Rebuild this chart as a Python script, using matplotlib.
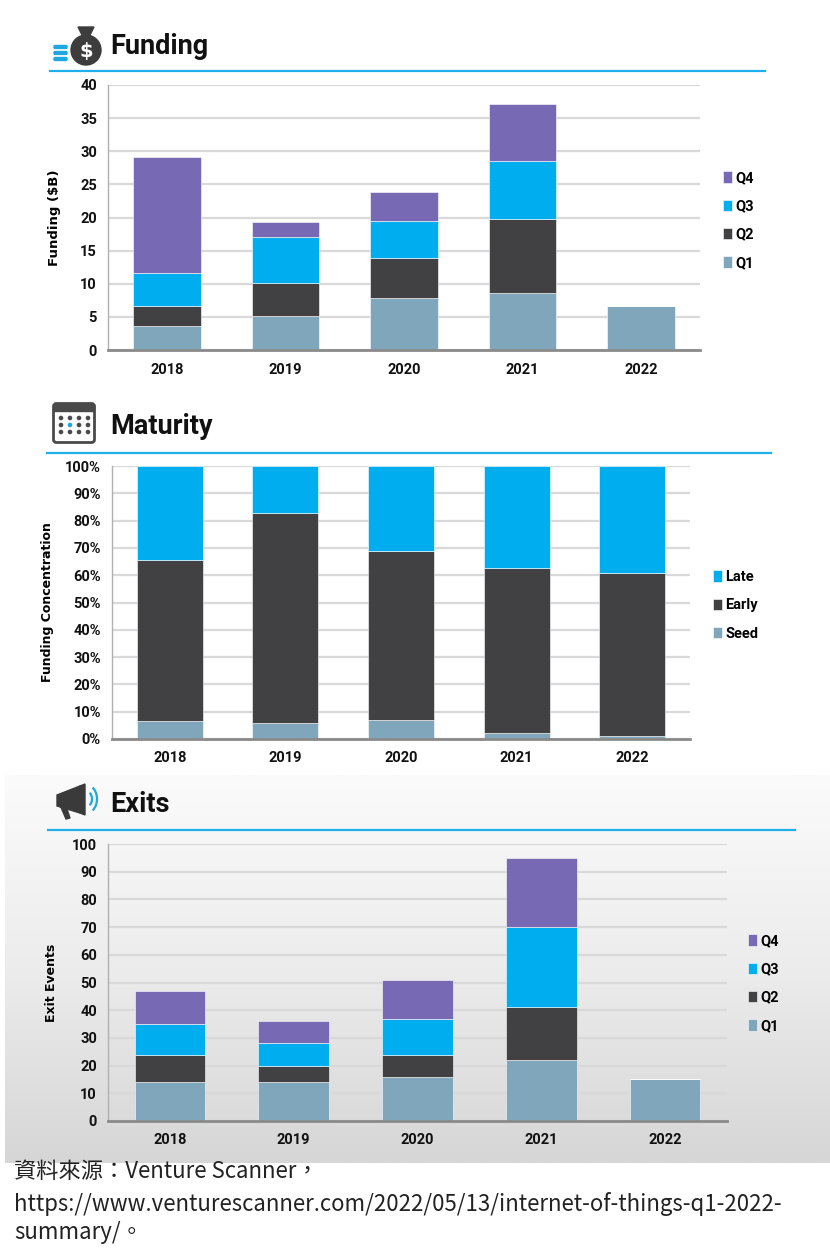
import numpy as np
import matplotlib
matplotlib.use("Agg")
import matplotlib.pyplot as plt
from matplotlib.patches import Rectangle, FancyBboxPatch, Ellipse, Polygon, Arc

years = ["2018", "2019", "2020", "2021", "2022"]

# Funding ($B) per quarter
funding_q1 = [3.6, 5.1, 7.9, 8.55, 6.7]
funding_q2 = [3.1, 5.05, 6.0, 11.2, 0]
funding_q3 = [4.95, 6.85, 5.6, 8.85, 0]
funding_q4 = [17.45, 2.35, 4.3, 8.6, 0]

# Maturity (% of funding)
seed = [6.7, 5.75, 7.1, 2.2, 1.0]
early = [58.7, 77.15, 61.7, 60.6, 59.8]
late = [34.6, 17.1, 31.2, 37.2, 39.2]

# Exit events per quarter
exits_q1 = [14, 14, 16, 22, 15]
exits_q2 = [10, 6, 8, 19, 0]
exits_q3 = [11, 8, 13, 29, 0]
exits_q4 = [12, 8, 14, 25, 0]

C_Q1 = "#80a6bc"
C_Q2 = "#414143"
C_Q3 = "#00aeef"
C_Q4 = "#7769b3"
BLUE_LINE = "#1eb0ea"
GRID = "#d9d9d9"

W, H = 830, 1256
fig = plt.figure(figsize=(W / 100, H / 100), dpi=100)

TICK_FONT = dict(family="Roboto", weight="bold", size=10.5)


def px_axes(left, top, right, bottom, **kw):
    return fig.add_axes([left / W, 1 - bottom / H, (right - left) / W, (bottom - top) / H], **kw)


# decoration layer in pixel coordinates
deco = fig.add_axes([0, 0, 1, 1], zorder=0)
deco.set_xlim(0, W)
deco.set_ylim(H, 0)
deco.axis("off")

# exits background gradient
grad = np.linspace(0, 1, 200).reshape(-1, 1)
grad_cmap = matplotlib.colors.LinearSegmentedColormap.from_list("bg", ["#fbfbfb", "#ececec", "#d6d6d6"])
deco.imshow(grad, cmap=grad_cmap, extent=(5, 830, 1163, 775), aspect="auto", zorder=0)

# header lines
for y0, x0, x1 in [(71, 50, 765), (453, 47, 771), (830, 48, 795)]:
    deco.plot([x0, x1], [y0, y0], color=BLUE_LINE, lw=1.6, zorder=2)

# titles
for txt, x0, y0 in [("Funding", 110, 46), ("Maturity", 110, 427), ("Exits", 110, 804)]:
    deco.text(x0, y0, txt, fontsize=19.5, fontweight="bold", family="Roboto", color="#111111",
              va="center", ha="left", zorder=3)

# money bag icon
deco.add_patch(Ellipse((86, 50), 30, 30, color="#3d3d3d", zorder=3))
deco.add_patch(Polygon([[78, 27], [94, 27], [89, 37], [83, 37]], closed=True, color="#3d3d3d", zorder=3))
deco.text(86, 51, "$", color="white", fontsize=14, fontweight="bold", ha="center", va="center", zorder=4)
for cy in [47, 53, 59]:
    deco.add_patch(FancyBboxPatch((53, cy - 2.5), 15, 5, boxstyle="round,pad=0.3,rounding_size=2.5",
                                  facecolor="#1ea7e1", edgecolor="white", lw=0.8, zorder=5))

# calendar icon
deco.add_patch(FancyBboxPatch((54, 404), 40, 38, boxstyle="round,pad=0.5,rounding_size=3",
                              facecolor="white", edgecolor="#4a4a4a", lw=2, zorder=3))
deco.add_patch(Rectangle((54, 404), 40, 7, color="#4a4a4a", zorder=3))
for i in range(4):
    for j in range(3):
        c = "#1ea7e1" if (i == 1 and j == 1) else "#4a4a4a"
        deco.add_patch(Ellipse((61 + i * 9, 418 + j * 7), 3.2, 3.2, color=c, zorder=4))

# megaphone icon
deco.add_patch(Polygon([[57, 795], [80, 786], [80, 813], [57, 806]], closed=True, color="#3a3a3a", zorder=3))
deco.add_patch(Polygon([[60, 805], [66, 806], [70, 818], [66, 819]], closed=True, color="#3a3a3a", zorder=3))
deco.add_patch(Polygon([[80, 786], [85, 784], [85, 815], [80, 813]], closed=True, color="#3a3a3a", zorder=3))
for r in [6, 11]:
    deco.add_patch(Arc((86, 799), r * 2, r * 2.6, theta1=-60, theta2=60, color="#1ea7e1", lw=1.6, zorder=3))


def style_axes(ax, ymax, step, fmt=None):
    ax.set_xlim(-0.5, 4.5)
    ax.set_ylim(0, ymax)
    ticks = np.arange(0, ymax + step / 2, step)
    ax.set_yticks(ticks)
    if fmt:
        ax.set_yticklabels([fmt(t) for t in ticks])
    ax.set_xticks(range(len(years)))
    ax.set_xticklabels(years)
    for lab in ax.get_xticklabels() + ax.get_yticklabels():
        lab.set_fontproperties(matplotlib.font_manager.FontProperties(**TICK_FONT))
        lab.set_color("#111111")
    ax.tick_params(axis="both", length=0)
    ax.tick_params(axis="x", pad=9)
    ax.tick_params(axis="y", pad=8)
    ax.grid(axis="y", color=GRID, lw=1.6)
    ax.set_axisbelow(True)
    for s in ["top", "right"]:
        ax.spines[s].set_visible(False)
    ax.spines["left"].set_color("#b0b0b0")
    ax.spines["left"].set_linewidth(1.0)
    ax.spines["bottom"].set_color("#8a8a8a")
    ax.spines["bottom"].set_linewidth(2.0)


def stacked(ax, series, colors, labels):
    bottom = np.zeros(len(years))
    handles = []
    x = np.arange(len(years))
    for vals, c, lab in zip(series, colors, labels):
        b = ax.bar(x, vals, width=0.57, bottom=bottom, color=c, label=lab,
                   edgecolor="white", linewidth=0.4, zorder=2)
        handles.append(b)
        bottom += np.array(vals)
    return handles


def add_legend(ax, handles, labels, x0, y_top):
    ax.legend(handles[::-1], labels[::-1], loc="upper left",
              bbox_to_anchor=(x0 / W, 1 - y_top / H), bbox_transform=fig.transFigure,
              frameon=False, handlelength=0.6, handleheight=0.8, handletextpad=0.25,
              labelspacing=0.98, prop=dict(family="Roboto", weight="bold", size=10.5))


# Funding
ax1 = px_axes(108, 85, 700, 350, zorder=1)
style_axes(ax1, 40, 5)
h = stacked(ax1, [funding_q1, funding_q2, funding_q3, funding_q4], [C_Q1, C_Q2, C_Q3, C_Q4],
            ["Q1", "Q2", "Q3", "Q4"])
add_legend(ax1, h, ["Q1", "Q2", "Q3", "Q4"], 710, 158)
ax1.set_ylabel("Funding ($B)", fontsize=9.5, fontweight="bold", family="DejaVu Sans", labelpad=14)

# Maturity
ax2 = px_axes(112, 466, 690, 739, zorder=1)
style_axes(ax2, 100, 10, fmt=lambda t: f"{int(t)}%")
h = stacked(ax2, [seed, early, late], [C_Q1, C_Q2, C_Q3], ["Seed", "Early", "Late"])
add_legend(ax2, h, ["Seed", "Early", "Late"], 700, 557)
ax2.set_ylabel("Funding Concentration", fontsize=9, fontweight="bold", family="DejaVu Sans", labelpad=8)

# Exits
ax3 = px_axes(108, 844, 727, 1121, zorder=1)
ax3.patch.set_alpha(0)
style_axes(ax3, 100, 10)
h = stacked(ax3, [exits_q1, exits_q2, exits_q3, exits_q4], [C_Q1, C_Q2, C_Q3, C_Q4],
            ["Q1", "Q2", "Q3", "Q4"])
add_legend(ax3, h, ["Q1", "Q2", "Q3", "Q4"], 735, 921)
ax3.set_ylabel("Exit Events", fontsize=9, fontweight="bold", family="DejaVu Sans", labelpad=10)

# source note
src_font = dict(family=["Noto Sans CJK TC", "DejaVu Sans"], fontsize=16, color="#222222", va="center", ha="left")
fig.text(14 / W, 1 - 1172 / H, "資料來源：Venture Scanner，", **src_font)
fig.text(14 / W, 1 - 1204 / H, "https://www.venturescanner.com/2022/05/13/internet-of-things-q1-2022-", **src_font)
fig.text(14 / W, 1 - 1232 / H, "summary/。", **src_font)

fig.savefig("out.png", dpi=100)
